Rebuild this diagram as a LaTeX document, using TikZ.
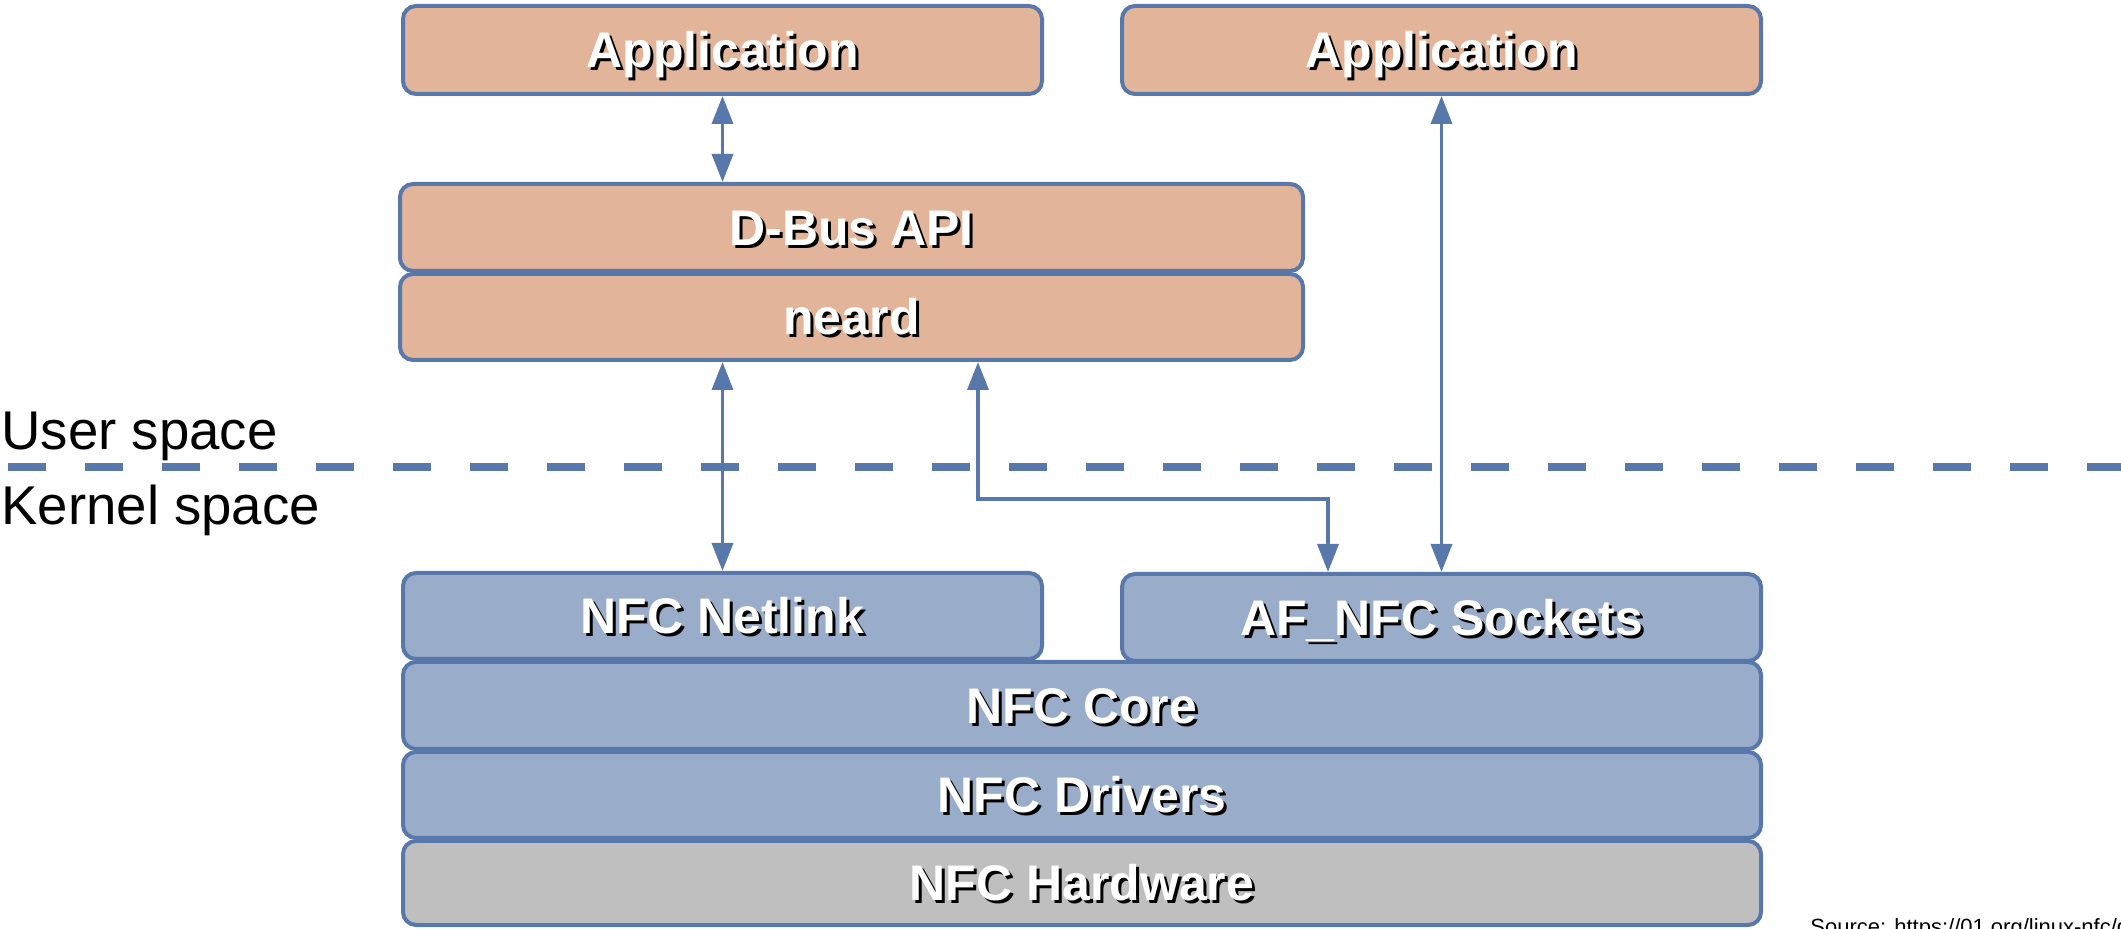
\documentclass[tikz,border=0pt]{standalone}
\usepackage{fontspec}
\setmainfont{Liberation Sans}
\usetikzlibrary{arrows.meta}

\definecolor{edge}{HTML}{5878AC}
\definecolor{userfill}{HTML}{E2B59A}
\definecolor{kernfill}{HTML}{99ADCB}
\definecolor{hwfill}{HTML}{BFBFBF}

% white label with a black drop shadow
\newcommand\shadowed[1]{\leavevmode\rlap{\kern1.5pt\raisebox{-1.5pt}{\color{black}#1}}{\color{white}#1}}

\tikzset{
  layer/.style={draw=edge, line width=2pt, rounded corners=6.5pt, inner sep=0pt,
    outer sep=1pt, text height=17.9pt, text depth=0pt,
    font=\bfseries\fontsize{25pt}{30pt}\selectfont},
  userbox/.style={layer, fill=userfill},
  kernbox/.style={layer, fill=kernfill},
  hwbox/.style={layer, fill=hwfill},
  conn/.style={draw=edge, line width=1.8pt,
    {Triangle[length=14pt,width=10.5pt]}-{Triangle[length=14pt,width=10.5pt]}},
  spacelabel/.style={font=\fontsize{27.3pt}{32pt}\selectfont, inner sep=0pt, anchor=base west},
  divider/.style={draw=edge, line width=4pt, dash pattern=on 19pt off 19.5pt, dash phase=34.5pt}
}

% \layerbox{style}{x1}{y1}{x2}{y2}{name}{label}  (pixel grid, y downwards)
\newcommand\layerbox[7]{%
  \node[#1, minimum width={(#4-#2-4)*0.5pt}, minimum height={(#5-#3-4)*0.5pt}]
    (#6) at ({(#2+#4)/2},{(#3+#5)/2}) {\shadowed{#7}};}

\begin{document}
\begin{tikzpicture}[x=0.5pt,y=-0.5pt]
\useasboundingbox (0,0) rectangle (2121,929);
\clip (0,0) rectangle (2121,929);

% user space
\layerbox{userbox}{401}{4}{1044}{96}{app1}{Application}
\layerbox{userbox}{1120}{4}{1763}{96}{app2}{Application}
\layerbox{userbox}{398}{182}{1305}{273}{dbus}{D-Bus API}
\layerbox{userbox}{398}{272}{1305}{362}{neard}{neard}

% kernel space
\layerbox{hwbox}{401}{839}{1763}{927}{hw}{NFC Hardware}
\layerbox{kernbox}{401}{750}{1763}{840}{drivers}{NFC Drivers}
\layerbox{kernbox}{401}{660}{1763}{751}{core}{NFC Core}
\layerbox{kernbox}{401}{571}{1044}{661}{netlink}{NFC Netlink}
\layerbox{kernbox}{1120}{572}{1763}{663}{afnfc}{AF\_NFC Sockets}

% user / kernel boundary
\draw[divider] (0,467) -- (2121,467);
\node[spacelabel] (userlbl) at (1,450) {User space};
\node[spacelabel] (kernlbl) at (1,525) {Kernel space};

% connectors
\coordinate (bendA) at (978,499);
\coordinate (bendB) at (1328,499);
\draw[conn] (app1.south) -- (app1.south |- dbus.north);
\draw[conn] (netlink.north |- neard.south) -- (netlink.north);
\draw[conn] (neard.south -| bendA) -- (bendA) -- (bendB) -- (afnfc.north -| bendB);
\draw[conn] (app2.south) -- (afnfc.north);

% source note
\node[anchor=base west, inner sep=0pt, font=\fontsize{11pt}{13pt}\selectfont] (src)
  at (1810,935) {Source: https://01.org/linux-nfc/documentation};
\end{tikzpicture}
\end{document}
